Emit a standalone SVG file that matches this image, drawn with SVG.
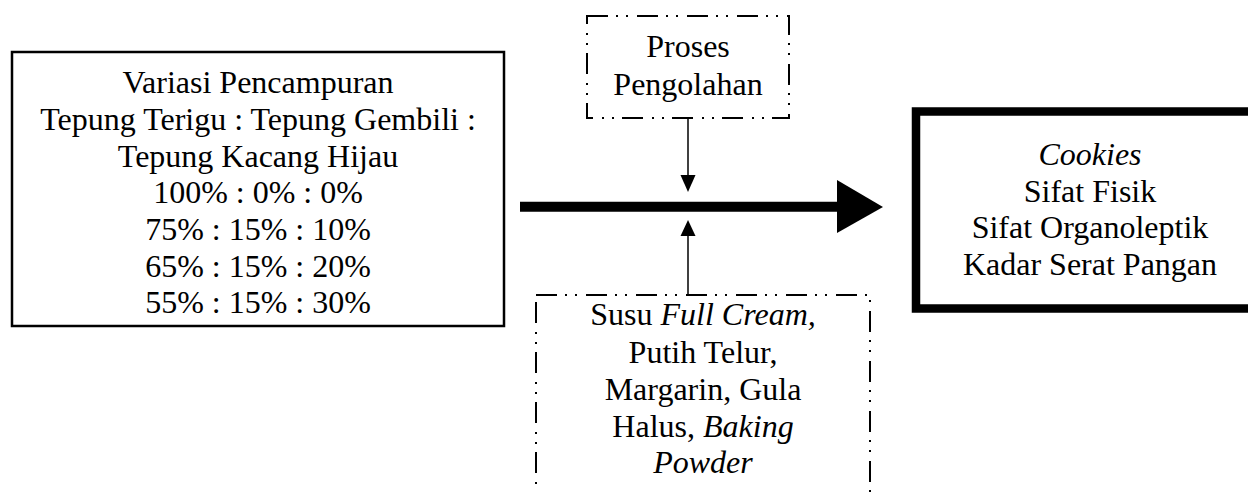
<svg xmlns="http://www.w3.org/2000/svg" width="1248" height="492" viewBox="0 0 1248 492">
<style>
text{font-family:"Liberation Serif","Times New Roman",serif;font-size:32px;fill:#000;text-anchor:middle}
.it{font-style:italic}
.dash{fill:none;stroke:#000;stroke-width:2;stroke-dasharray:21 8 2 8 2 9}
.solid{fill:#fff;stroke:#000}
.thin{stroke:#000;stroke-width:1.5;fill:none}
</style>
<rect width="1248" height="492" fill="#fff"/>
<g id="node-variasi">
<rect class="solid" x="12" y="52" width="492" height="274" stroke-width="2.5"/>
<text x="258" y="93">Variasi Pencampuran</text>
<text x="258" y="130">Tepung Terigu : Tepung Gembili :</text>
<text x="258" y="167">Tepung Kacang Hijau</text>
<text x="258" y="203">100% : 0% : 0%</text>
<text x="258" y="240">75% : 15% : 10%</text>
<text x="258" y="277">65% : 15% : 20%</text>
<text x="258" y="313">55% : 15% : 30%</text>
</g>
<g id="node-proses">
<rect class="dash" x="587" y="16" width="202" height="102"/>
<text x="688" y="57">Proses</text>
<text x="688" y="95">Pengolahan</text>
</g>
<g id="node-bahan">
<rect class="dash" x="536" y="295" width="334" height="230"/>
<text x="703" y="325">Susu <tspan class="it">Full Cream,</tspan></text>
<text x="703" y="363">Putih Telur,</text>
<text x="703" y="400">Margarin, Gula</text>
<text x="703" y="437">Halus, <tspan class="it">Baking</tspan></text>
<text x="703" y="473" class="it">Powder</text>
</g>
<g id="node-cookies">
<rect class="solid" x="916" y="111.5" width="400" height="197" stroke-width="8.5"/>
<text x="1090" y="165" class="it">Cookies</text>
<text x="1090" y="202">Sifat Fisik</text>
<text x="1090" y="238">Sifat Organoleptik</text>
<text x="1090" y="275">Kadar Serat Pangan</text>
</g>
<g id="connectors">
<line x1="520" y1="206.7" x2="838" y2="206.7" stroke="#000" stroke-width="10"/>
<polygon points="837,180 883,207 837,233" fill="#000"/>
<line class="thin" x1="688" y1="118" x2="688" y2="177"/>
<polygon points="680.5,175 695.5,175 688,192" fill="#000"/>
<line class="thin" x1="688" y1="295" x2="688" y2="234"/>
<polygon points="680.5,236 695.5,236 688,220" fill="#000"/>
</g>
</svg>
